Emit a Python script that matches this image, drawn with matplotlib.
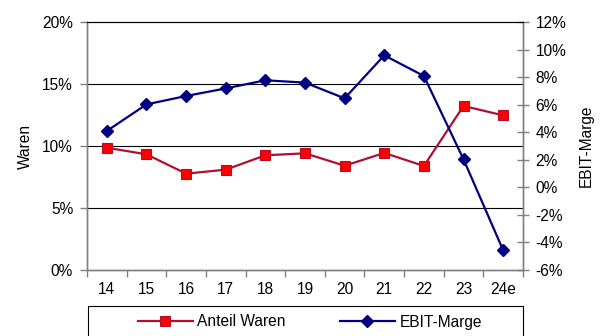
import matplotlib
matplotlib.use('Agg')
import matplotlib.pyplot as plt
from matplotlib.patches import Rectangle
from matplotlib.ticker import FuncFormatter

plt.rcParams['font.family'] = ['Liberation Sans', 'DejaVu Sans']

years = ['14', '15', '16', '17', '18', '19', '20', '21', '22', '23', '24e']
anteil_waren = [9.86, 9.33, 7.77, 8.09, 9.25, 9.41, 8.41, 9.44, 8.39, 13.23, 12.47]
ebit_marge = [4.09, 6.02, 6.63, 7.18, 7.77, 7.60, 6.46, 9.58, 8.08, 2.03, -4.57]

W, H = 603, 336
fs = 11.2
fig = plt.figure(figsize=(W / 100, H / 100), dpi=100)
left, right, top, bottom = 87, 523, 22, 270
ax = fig.add_axes([left / W, 1 - bottom / H, (right - left) / W, (bottom - top) / H])
ax2 = ax.twinx()

x = list(range(len(years)))
grey = '#808080'
red_line = '#B0102F'
navy = '#000080'

ax.plot(x, anteil_waren, color=red_line, linewidth=1.6, marker='s', markersize=7.5,
        markerfacecolor='#FF0000', markeredgecolor=red_line, markeredgewidth=0.8,
        label='Anteil Waren', zorder=3)
ax2.plot(x, ebit_marge, color=navy, linewidth=1.6, marker='D', markersize=6,
         markerfacecolor=navy, markeredgecolor=navy, label='EBIT-Marge', zorder=3)

ax.set_xlim(-0.5, len(years) - 0.5)
ax.set_ylim(0, 20)
ax2.set_ylim(-6, 12)
ax.set_yticks([0, 5, 10, 15, 20])
ax2.set_yticks(range(-6, 13, 2))
pct = FuncFormatter(lambda v, _: f'{v:.0f}%')
ax.yaxis.set_major_formatter(pct)
ax2.yaxis.set_major_formatter(pct)

# horizontal gridlines from the left scale
for v in (5, 10, 15):
    ax.axhline(v, color='black', linewidth=0.8, zorder=1)

# category labels centred, tick marks on the boundaries
ax.set_xticks(x)
ax.set_xticklabels(years)
ax.tick_params(axis='x', which='major', length=0, pad=9, labelsize=fs)
ax.set_xticks([i - 0.5 for i in range(len(years) + 1)], minor=True)
ax.tick_params(axis='x', which='minor', length=5, color=grey, width=1)

ax.tick_params(axis='y', length=5, color=grey, width=1, labelsize=fs, pad=5)
ax2.tick_params(axis='y', direction='inout', length=8, color=grey, width=1,
                labelsize=fs, pad=5)

for a in (ax, ax2):
    for side in ('left', 'right', 'bottom'):
        a.spines[side].set_color(grey)
        a.spines[side].set_linewidth(1)
    a.spines['top'].set_color('black')
    a.spines['top'].set_linewidth(0.8)

ax.set_ylabel('Waren', fontsize=fs, labelpad=7)
ax2.set_ylabel('EBIT-Marge', fontsize=fs, labelpad=9)

# legend box under the plot
fig.patches.append(Rectangle((88 / W, -0.05), (523 - 88) / W, 1 - 306 / H + 0.05,
                             transform=fig.transFigure, facecolor='white',
                             edgecolor='black', linewidth=0.8))
h1, l1 = ax.get_legend_handles_labels()
h2, l2 = ax2.get_legend_handles_labels()
fig.legend(h1 + h2, l1 + l2, loc='center', bbox_to_anchor=(310 / W, 1 - 322 / H),
           ncol=2, frameon=False, fontsize=fs, handlelength=3.5,
           columnspacing=3.5, handletextpad=0.3, borderaxespad=0)

fig.savefig('out.png', dpi=100)
